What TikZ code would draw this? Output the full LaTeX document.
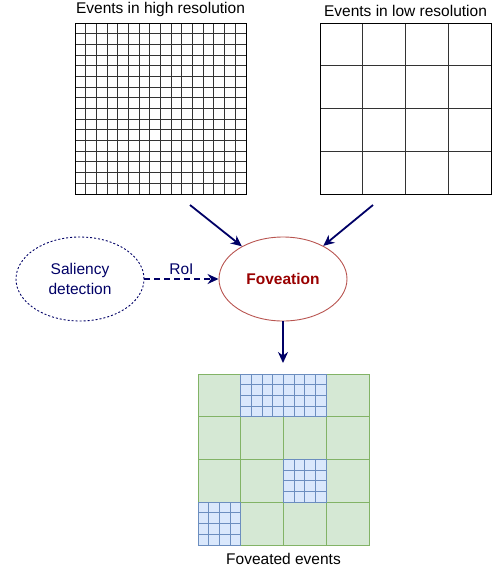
\documentclass[tikz,border=0pt]{standalone}
\usepackage{fontspec}
\setmainfont{Liberation Sans}
\usetikzlibrary{arrows.meta,positioning,shapes}

\definecolor{arrowblue}{HTML}{000066}
\definecolor{fovred}{HTML}{B85450}
\definecolor{fovtext}{HTML}{990000}
\definecolor{cellgreen}{HTML}{D5E8D4}
\definecolor{linegreen}{HTML}{82B366}
\definecolor{cellblue}{HTML}{DAE8FC}
\definecolor{lineblue}{HTML}{6C8EBF}

\tikzset{
  flow/.style={draw=arrowblue,line width=1.8pt,-{Stealth[length=11pt,width=10pt]}},
  gridline/.style={draw=black!80,line width=1pt},
  coarse/.style={fill=cellgreen,draw=linegreen,line width=0.9pt},
  fine/.style={fill=cellblue,draw=lineblue,line width=0.9pt}
}

\begin{document}
\begin{tikzpicture}[x=1pt,y=-1pt,font=\fontsize{15.5}{19.5}\selectfont]
    \useasboundingbox (0,0) rectangle (495,571);

    % high resolution grid
    \foreach \i in {0,...,16} {
        \draw[gridline] (75+\i*10.6875,23) -- +(0,171);
        \draw[gridline] (75,23+\i*10.6875) -- +(171,0);
    }
    \node[draw,line width=1pt,minimum size=171pt,inner sep=0pt] (hires) at (160.5,108.5) {};
    \node[above=2pt of hires] (hilabel) {Events in high resolution};

    % low resolution grid
    \foreach \i in {0,...,4} {
        \draw[gridline] (320+\i*42.75,23) -- +(0,171);
        \draw[gridline] (320,23+\i*42.75) -- +(171,0);
    }
    \node[draw,line width=1pt,minimum size=171pt,inner sep=0pt] (lores) at (405.5,108.5) {};
    \node[above=2pt of lores] (lolabel) {Events in low resolution};

    \node[ellipse,draw=fovred,line width=0.9pt,minimum width=128pt,minimum height=84pt,text=fovtext,font=\fontsize{15.5}{19.5}\selectfont\bfseries] (fov) at (283,279) {Foveation};
    \node[ellipse,draw=arrowblue,line width=0.9pt,dash pattern=on 2pt off 2pt,minimum width=128pt,minimum height=84pt,text=arrowblue,align=center] (sal) at (80,279) {Saliency\\detection};

    \coordinate (hitail) at (190,205);
    \coordinate (lotail) at (373,205);
    \coordinate (fovhead) at (283,363);

    \draw[flow] (hitail) -- (fov);
    \draw[flow] (lotail) -- (fov);
    \draw[flow,dash pattern=on 6pt off 4pt] (sal) -- node[above,text=arrowblue] (roi) {RoI} (fov);
    \draw[flow] (fov) -- (fovhead);

    % foveated grid
    \foreach \c in {0,...,3}
        \foreach \r in {0,...,3}
            \draw[coarse] (198+\c*42.75,374+\r*42.75) rectangle +(42.75,42.75);
    \foreach \c/\r in {1/0,2/0,2/2,0/3}
        \foreach \i in {0,...,3}
            \foreach \j in {0,...,3}
                \draw[fine] (198+\c*42.75+\i*10.6875,374+\r*42.75+\j*10.6875) rectangle +(10.6875,10.6875);
    \node[minimum size=171pt,inner sep=0pt] (fovgrid) at (283.5,459.5) {};
    \node[below=5pt of fovgrid] (fovlabel) {Foveated events};
\end{tikzpicture}
\end{document}
